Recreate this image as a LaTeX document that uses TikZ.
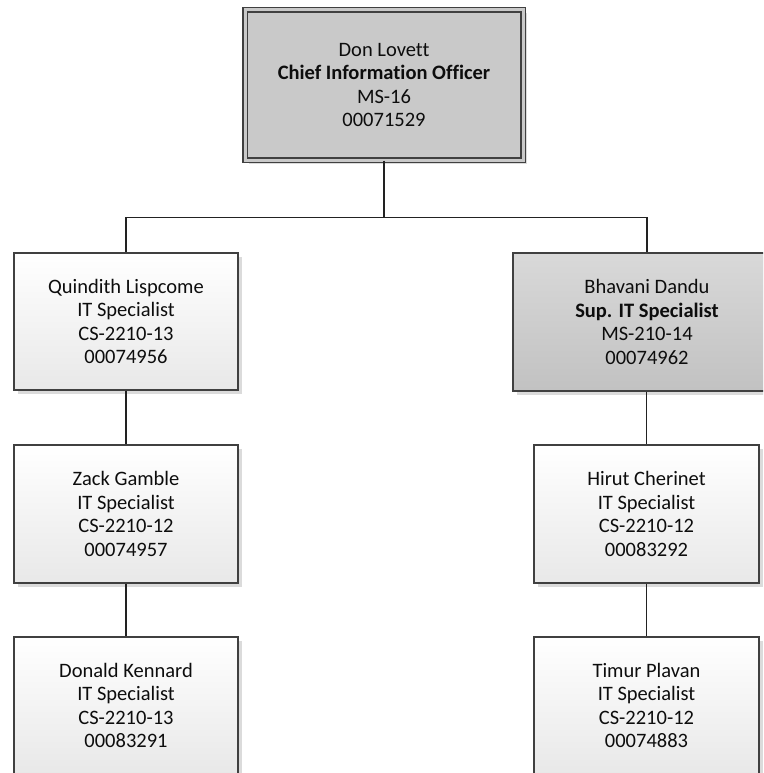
\documentclass[tikz,border=0pt]{standalone}
\usepackage{fontspec}
\setmainfont{Carlito}[Ligatures=NoCommon]
\usetikzlibrary{shadows}
\definecolor{edge}{HTML}{404040}
\definecolor{wire}{HTML}{222222}
\begin{document}
\begin{tikzpicture}[x=1pt,y=-1pt,
  card/.style={draw=edge, line width=1.4pt, align=center, inner sep=0pt,
    font=\fontsize{20.5}{23.5}\selectfont, text=black!95,
    drop shadow={shadow xshift=3.5pt, shadow yshift=-3.5pt, fill=black!14, opacity=1}},
  plain/.style={card, top color=white, bottom color=black!9},
  boss/.style={card, top color=black!15, bottom color=black!24},
  head/.style={card, fill=black!21, double=black!21, double distance=3pt,
    line width=1.3pt},
  link/.style={draw=wire, line width=1.8pt}]
\useasboundingbox (0,0) rectangle (763,773);
\clip (0,0) rectangle (763,773);

% executive
\node[head, minimum width=278pt, minimum height=150pt] (cio) at (384,85)
  {Don Lovett\\\textbf{Chief Information Officer}\\MS-16\\00071529};

% left column
\node[plain, minimum width=224pt, minimum height=137pt] (q) at (126,321.5)
  {Quindith Lispcome\\IT Specialist\\CS-2210-13\\00074956};
\node[plain, minimum width=224pt, minimum height=138pt] (z) at (126,514)
  {Zack Gamble\\IT Specialist\\CS-2210-12\\00074957};
\node[plain, minimum width=224pt, minimum height=137pt] (d) at (126,705.5)
  {Donald Kennard\\IT Specialist\\CS-2210-13\\00083291};

% right column
\node[boss, minimum width=268pt, minimum height=138pt] (b) at (647,322)
  {Bhavani Dandu\\\textbf{Sup. IT Specialist}\\MS-210-14\\00074962};
\node[plain, minimum width=225pt, minimum height=138pt] (h) at (646.5,514)
  {Hirut Cherinet\\IT Specialist\\CS-2210-12\\00083292};
\node[plain, minimum width=225pt, minimum height=137pt] (t) at (646.5,705.5)
  {Timur Plavan\\IT Specialist\\CS-2210-12\\00074883};

% reporting lines
\coordinate (bus) at (384,217.5);
\draw[link] (cio.south) -- (bus);
\draw[link] (bus) -| (q.north);
\draw[link] (bus) -| (b.north);
\draw[link] (q.south) -- (z.north);
\draw[link] (z.south) -- (d.north);
\draw[link] (b.south -| h.north) -- (h.north);
\draw[link] (h.south) -- (t.north);
\end{tikzpicture}
\end{document}
